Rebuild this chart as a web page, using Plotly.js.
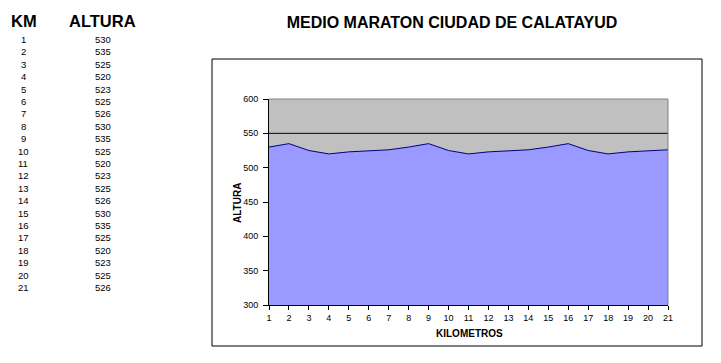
<!DOCTYPE html>
<html>
<head>
<meta charset="utf-8">
<script src="https://cdn.plot.ly/plotly-3.0.1.min.js"></script>
<style>
html,body{margin:0;padding:0;background:#fff;}
#chart{width:721px;height:363px;}
</style>
</head>
<body>
<div id="chart"></div>
<script>
const km = [1,2,3,4,5,6,7,8,9,10,11,12,13,14,15,16,17,18,19,20,21];
const altura = [530,535,525,520,523,525,526,530,535,525,520,523,525,526,530,535,525,520,523,525,526];
const yTicks = [300,350,400,450,500,550,600];

const W = 721, H = 363;
const L = 269, R = 668, T = 99, B = 305;
const px = x => (x - L) / (R - L);
const py = y => (B - y) / (B - T);

const font = {family: 'Liberation Sans, Arial, sans-serif', color: '#000'};

const annotations = [];
// Table headers
annotations.push({xref:'paper', yref:'paper', x:px(24), y:py(21), text:'<b>KM</b>', showarrow:false,
  font:Object.assign({}, font, {size:16.5}), xanchor:'center', yanchor:'middle'});
annotations.push({xref:'paper', yref:'paper', x:px(102.5), y:py(21), text:'<b>ALTURA</b>', showarrow:false,
  font:Object.assign({}, font, {size:16.5}), xanchor:'center', yanchor:'middle'});
km.forEach((k, i) => {
  const yy = 39.5 + i * 12.4;
  annotations.push({xref:'paper', yref:'paper', x:px(23), y:py(yy), text:String(k), showarrow:false,
    font:Object.assign({}, font, {size:9.5}), xanchor:'center', yanchor:'middle'});
  annotations.push({xref:'paper', yref:'paper', x:px(102.5), y:py(yy), text:String(altura[i]), showarrow:false,
    font:Object.assign({}, font, {size:9.5}), xanchor:'center', yanchor:'middle'});
});
// Axis titles
annotations.push({xref:'paper', yref:'paper', x:px(237), y:py(203), text:'<b>ALTURA</b>', showarrow:false,
  textangle:-90, font:Object.assign({}, font, {size:10}), xanchor:'center', yanchor:'middle'});
annotations.push({xref:'paper', yref:'paper', x:px(469), y:py(333), text:'<b>KILOMETROS</b>', showarrow:false,
  font:Object.assign({}, font, {size:10}), xanchor:'center', yanchor:'middle'});

const shapes = [
  // outer chart border
  {type:'rect', xref:'paper', yref:'paper', x0:px(212), x1:px(702), y0:py(59), y1:py(346),
   line:{color:'#000', width:1}, fillcolor:'rgba(0,0,0,0)', layer:'below'},
  // gridline at 550
  {type:'line', xref:'paper', yref:'y', x0:0, x1:1, y0:550, y1:550, line:{color:'#000', width:1}, layer:'below'},
  // gray top & right borders of plot area
  {type:'line', xref:'paper', yref:'paper', x0:0, x1:1, y0:1, y1:1, line:{color:'#808080', width:1}, layer:'above'},
  {type:'line', xref:'paper', yref:'paper', x0:1, x1:1, y0:0, y1:1, line:{color:'#808080', width:1}, layer:'above'}
];

const trace = {
  x: km, y: altura, type:'scatter', mode:'lines', fill:'tozeroy',
  fillcolor:'#9999FF', line:{color:'#000080', width:1}, hoverinfo:'skip'
};

const layout = {
  width: W, height: H,
  margin: {l:L, r:W-R, t:T, b:H-B, pad:0},
  paper_bgcolor:'#fff', plot_bgcolor:'#C0C0C0',
  showlegend:false,
  title:{text:'<b>MEDIO MARATON CIUDAD DE CALATAYUD</b>', x:452/W, xanchor:'center', y:1-22/H, yanchor:'middle',
    font:Object.assign({}, font, {size:16})},
  xaxis:{range:[1,21], tickvals:km, ticktext:km.map(String), showgrid:false, zeroline:false,
    showline:true, linecolor:'#000', linewidth:1, ticks:'outside', ticklen:4, tickcolor:'#000',
    tickfont:Object.assign({}, font, {size:9}), fixedrange:true},
  yaxis:{range:[300,600], tickvals:yTicks, showgrid:false, zeroline:false,
    showline:true, linecolor:'#000', linewidth:1, ticks:'outside', ticklen:5, tickcolor:'#000',
    ticklabelstandoff:3,
    tickfont:Object.assign({}, font, {size:9}), fixedrange:true},
  annotations: annotations,
  shapes: shapes
};

Plotly.newPlot('chart', [trace], layout, {displayModeBar:false, staticPlot:true});
</script>
</body>
</html>
